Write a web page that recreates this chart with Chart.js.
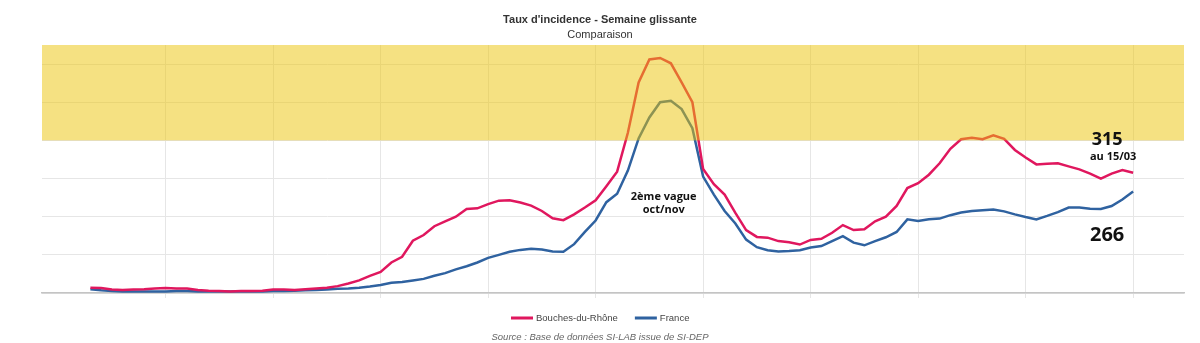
<!DOCTYPE html>
<html lang="fr">
<head>
<meta charset="utf-8">
<title>Taux d'incidence - Semaine glissante</title>
<script src="https://cdn.jsdelivr.net/npm/chart.js@4"></script>
<style>
  html, body { margin: 0; padding: 0; background: #fff; }
  #wrap { position: relative; width: 1200px; height: 343px; }
</style>
</head>
<body>
<div id="wrap"><canvas id="incidenceChart" width="1200" height="343"></canvas></div>
<script>
// Sliding-week incidence rate (per 100 000), one value every 3 days
const dates = [
  '2020-05-28', '2020-05-31', '2020-06-03', '2020-06-06', '2020-06-09', '2020-06-12', '2020-06-15',
  '2020-06-18', '2020-06-21', '2020-06-24', '2020-06-27', '2020-06-30', '2020-07-03', '2020-07-06',
  '2020-07-09', '2020-07-12', '2020-07-15', '2020-07-18', '2020-07-21', '2020-07-24', '2020-07-27',
  '2020-07-30', '2020-08-02', '2020-08-05', '2020-08-08', '2020-08-11', '2020-08-14', '2020-08-17',
  '2020-08-20', '2020-08-23', '2020-08-26', '2020-08-29', '2020-09-01', '2020-09-04', '2020-09-07',
  '2020-09-10', '2020-09-13', '2020-09-16', '2020-09-19', '2020-09-22', '2020-09-25', '2020-09-28',
  '2020-10-01', '2020-10-04', '2020-10-07', '2020-10-10', '2020-10-13', '2020-10-16', '2020-10-19',
  '2020-10-22', '2020-10-25', '2020-10-28', '2020-10-31', '2020-11-03', '2020-11-06', '2020-11-09',
  '2020-11-12', '2020-11-15', '2020-11-18', '2020-11-21', '2020-11-24', '2020-11-27', '2020-11-30',
  '2020-12-03', '2020-12-06', '2020-12-09', '2020-12-12', '2020-12-15', '2020-12-18', '2020-12-21',
  '2020-12-24', '2020-12-27', '2020-12-30', '2021-01-02', '2021-01-05', '2021-01-08', '2021-01-11',
  '2021-01-14', '2021-01-17', '2021-01-20', '2021-01-23', '2021-01-26', '2021-01-29', '2021-02-01',
  '2021-02-04', '2021-02-07', '2021-02-10', '2021-02-13', '2021-02-16', '2021-02-19', '2021-02-22',
  '2021-02-25', '2021-02-28', '2021-03-03', '2021-03-06', '2021-03-09', '2021-03-12', '2021-03-15'
];

const bouchesDuRhone = [
  14, 13, 9, 8, 9, 10, 12, 13, 12, 12, 8, 6, 5, 4,
  5, 5, 6, 9, 9, 8, 10, 12, 14, 18, 25, 33, 45, 55,
  80, 95, 137, 152, 175, 188, 200, 220, 222, 233, 242, 243, 237, 229,
  215, 196, 191, 206, 224, 243, 280, 318, 420, 552, 612, 616, 602, 552,
  500, 325, 285, 258, 210, 165, 147, 145, 136, 133, 127, 139, 142, 158,
  178, 165, 167, 188, 200, 228, 275, 288, 310, 340, 378, 403, 407, 403,
  413, 404, 375, 355, 337, 339, 340, 332, 324, 313, 300, 313, 322, 315
];

const france = [
  10, 7, 5, 4, 4, 4, 4, 4, 5, 5, 4, 4, 4, 4,
  4, 4, 4, 5, 5, 6, 7, 8, 9, 11, 12, 14, 17, 21,
  27, 29, 33, 37, 45, 52, 62, 70, 80, 92, 100, 108, 113, 116,
  114, 109, 108, 128, 160, 190, 238, 260, 321, 405, 460, 500, 504, 482,
  432, 305, 258, 215, 182, 140, 120, 112, 109, 110, 112, 119, 123, 136,
  149, 132, 125, 136, 146, 160, 193, 189, 193, 195, 204, 211, 215, 217,
  219, 214, 206, 199, 193, 202, 212, 224, 224, 221, 220, 228, 245, 266
];

const seriesNames = ['Bouches-du-Rhône', 'France'];
const seriesColors = ['#e0175e', '#2f62a0'];
const yTicks = [0, 100, 200, 300, 400, 500, 600];
const alertThreshold = 400;

// x = days relative to the last date, so the last point sits on tick 0
const lastDay = Date.parse(dates[dates.length - 1]);
const toDay = (d) => Math.round((Date.parse(d) - lastDay) / 864e5);
const xTicks = [-270, -240, -210, -180, -150, -120, -90, -60, -30, 0];

function toPoints(values) {
  return values.map((v, i) => ({ x: toDay(dates[i]), y: v }));
}

// yellow alert zone, painted over the curves so they show through tinted
const alertBand = {
  id: 'alertBand',
  afterDatasetsDraw(chart) {
    const { ctx, chartArea, scales } = chart;
    const top = chartArea.top;
    const bottom = scales.y.getPixelForValue(alertThreshold);
    ctx.save();
    ctx.fillStyle = 'rgba(235, 195, 5, 0.5)';
    ctx.fillRect(chartArea.left, top, chartArea.right - chartArea.left, bottom - top);
    ctx.restore();
  }
};

const textLayer = {
  id: 'textLayer',
  afterDraw(chart) {
    const { ctx, scales } = chart;
    const x = scales.x;
    ctx.save();
    ctx.textAlign = 'center';
    ctx.textBaseline = 'middle';

    ctx.fillStyle = '#333';
    ctx.font = 'bold 11px "Liberation Sans", Arial, sans-serif';
    ctx.fillText("Taux d'incidence - Semaine glissante", 600, 20);
    ctx.font = '11px "Liberation Sans", Arial, sans-serif';
    ctx.fillText('Comparaison', 600, 35);

    // last values
    const lastX = x.getPixelForValue(0);
    ctx.fillStyle = '#111';
    ctx.font = 'bold 18px "Open Sans", sans-serif';
    ctx.fillText(String(bouchesDuRhone[bouchesDuRhone.length - 1]), lastX - 26, 140);
    ctx.font = 'bold 11px "Open Sans", sans-serif';
    ctx.fillText('au 15/03', lastX - 20, 157);
    ctx.font = 'bold 20px "Open Sans", sans-serif';
    ctx.fillText(String(france[france.length - 1]), lastX - 26, 235);

    ctx.font = 'bold 11px "Open Sans", sans-serif';
    ctx.fillText('2ème vague', x.getPixelForValue(-131), 197);
    ctx.fillText('oct/nov', x.getPixelForValue(-131), 210);

    // legend
    const legendY = 318;
    ctx.textAlign = 'left';
    ctx.font = '9.5px "Liberation Sans", Arial, sans-serif';
    let lx = 511;
    seriesNames.forEach((name, i) => {
      ctx.fillStyle = seriesColors[i];
      ctx.fillRect(lx, legendY - 1.5, 22, 3);
      ctx.fillStyle = '#444';
      ctx.fillText(name, lx + 25, legendY);
      lx += 25 + ctx.measureText(name).width + 17;
    });

    ctx.textAlign = 'center';
    ctx.fillStyle = '#666';
    ctx.font = 'italic 9.5px "Liberation Sans", Arial, sans-serif';
    ctx.fillText('Source : Base de données SI-LAB issue de SI-DEP', 600, 337);
    ctx.restore();
  }
};

document.addEventListener('DOMContentLoaded', function () {
  const context = document.getElementById('incidenceChart').getContext('2d');
  new Chart(context, {
    type: 'line',
    data: {
      datasets: [
        {
          label: seriesNames[0],
          data: toPoints(bouchesDuRhone),
          borderColor: seriesColors[0],
          borderWidth: 2.5,
          pointRadius: 0,
          tension: 0,
        },
        {
          label: seriesNames[1],
          data: toPoints(france),
          borderColor: seriesColors[1],
          borderWidth: 2.5,
          pointRadius: 0,
          tension: 0,
        },
      ],
    },
    options: {
      responsive: false,
      animation: false,
      events: [],
      layout: { padding: { left: 42, right: 16, top: 45, bottom: 45 } },
      plugins: {
        legend: { display: false },
        title: { display: false },
        tooltip: { enabled: false },
      },
      scales: {
        x: {
          type: 'linear',
          min: -304.5,
          max: 14.2,
          afterBuildTicks: (scale) => { scale.ticks = xTicks.map((v) => ({ value: v })); },
          ticks: { display: false },
          grid: { color: '#e6e6e6', drawTicks: true, tickLength: 5, tickColor: '#e6e6e6' },
          border: { color: '#c4c4c4', width: 1.5 },
        },
        y: {
          min: 0,
          max: 650,
          afterBuildTicks: (scale) => { scale.ticks = yTicks.map((v) => ({ value: v })); },
          ticks: { display: false },
          grid: { color: '#e6e6e6', drawTicks: false },
          border: { display: false },
        },
      },
    },
    plugins: [alertBand, textLayer],
  });
});
</script>
</body>
</html>
